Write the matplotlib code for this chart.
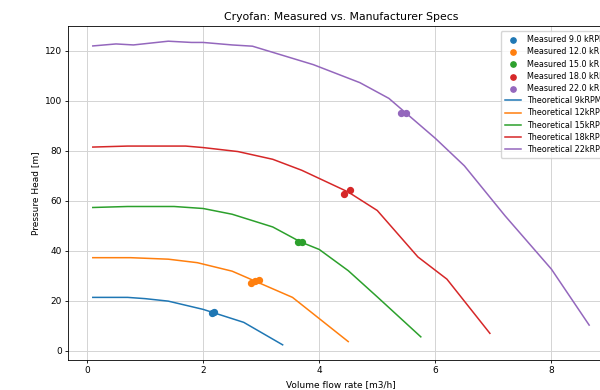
import matplotlib.pyplot as plt
import numpy as np

# theoretical curves (manufacturer specs)
q_9k = [0.1, 0.7, 1.0, 1.4, 2.0, 2.7, 3.37]
h_9k = [21.3, 21.3, 20.8, 19.8, 16.5, 11.3, 2.3]
q_12k = [0.1, 0.75, 1.4, 1.9, 2.5, 3.54, 4.5]
h_12k = [37.2, 37.2, 36.6, 35.2, 31.8, 21.3, 3.6]
q_15k = [0.1, 0.7, 1.5, 2.0, 2.5, 3.2, 3.68, 4.0, 4.5, 5.0, 5.75]
h_15k = [57.3, 57.7, 57.7, 56.9, 54.6, 49.5, 43.5, 40.5, 32.0, 21.5, 5.5]
q_18k = [0.1, 0.7, 1.7, 2.0, 2.6, 3.2, 3.7, 4.5, 5.0, 5.7, 6.2, 6.94]
h_18k = [81.5, 81.9, 81.9, 81.3, 79.7, 76.6, 72.2, 63.5, 56.1, 37.5, 28.6, 6.9]
q_22k = [0.1, 0.5, 0.8, 1.4, 1.8, 2.0, 2.5, 2.85, 3.9, 4.7, 5.2, 5.5, 6.0, 6.5, 7.2, 8.0, 8.65]
h_22k = [122.0, 122.8, 122.4, 123.9, 123.4, 123.4, 122.4, 121.9, 114.5, 107.3, 101.0, 95.0, 85.0, 74.0, 54.0, 32.6, 10.2]

# measured points
speeds = [9.0, 12.0, 15.0, 18.0, 22.0]
meas_q = [[2.15, 2.18], [2.83, 2.90, 2.96], [3.64, 3.70], [4.43, 4.53], [5.41, 5.50]]
meas_h = [[15.2, 15.5], [27.2, 27.8, 28.2], [43.3, 43.6], [62.8, 64.2], [95.0, 95.3]]

theo = [(q_9k, h_9k, '9kRPM'), (q_12k, h_12k, '12kRPM'), (q_15k, h_15k, '15kRPM'),
        (q_18k, h_18k, '18kRPM'), (q_22k, h_22k, '22kRPM')]
colors = ['C0', 'C1', 'C2', 'C3', 'C4']

fig = plt.figure(figsize=(6, 3.9), dpi=100)
ax = fig.add_axes([0.1133, 0.0769, 0.91, 0.8564])

for i in range(len(speeds)):
    ax.scatter(meas_q[i], meas_h[i], s=18, color=colors[i], zorder=3,
               label='Measured %.1f kRPM' % speeds[i])
for i, (q, h, name) in enumerate(theo):
    ax.plot(q, h, color=colors[i], lw=1.1, label='Theoretical ' + name)

ax.grid(True, color='#d4d4d4', lw=0.7)
ax.set_axisbelow(True)
ax.set_title('Cryofan: Measured vs. Manufacturer Specs', fontsize=7.8, pad=4)
ax.set_xlabel('Volume flow rate [m3/h]', fontsize=6.5, labelpad=3.5)
ax.set_ylabel('Pressure Head [m]', fontsize=6.5, labelpad=3)
ax.tick_params(labelsize=6.5, length=2.5, width=0.6, pad=2)
for s in ax.spines.values():
    s.set_linewidth(0.6)
ax.legend(loc='upper right', bbox_to_anchor=(1.01, 0.997), fontsize=5.8,
          framealpha=0.8, labelspacing=0.4, borderpad=0.5, markerscale=0.9)

fig.savefig('out.png', dpi=100)
